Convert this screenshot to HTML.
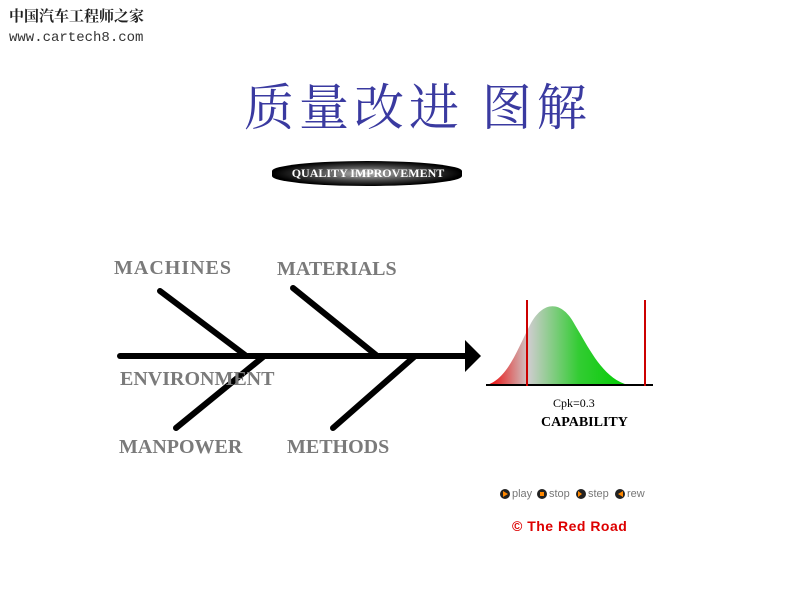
<!DOCTYPE html>
<html><head><meta charset="utf-8"><style>
body{margin:0;width:801px;height:600px;background:#fff;overflow:hidden;position:relative;font-family:"Liberation Serif",serif}
.a{position:absolute;white-space:nowrap}
.g{color:#7a7a7a;font-weight:bold;font-size:20px}
</style></head><body>
<div class="a" style="left:9px;top:5px;font:bold 15px 'Noto Serif CJK SC',serif;color:#222">中国汽车工程师之家</div>
<div class="a" style="left:9px;top:30px;font:14px 'Liberation Mono',monospace;color:#333">www.cartech8.com</div>
<div class="a" style="left:244px;top:68px;font:50px 'Noto Serif CJK SC',serif;color:#3a3aa0;letter-spacing:5px">质量改进 图解</div>
<div class="a" style="left:272px;top:161px;width:190px;height:25px;border-radius:50%/40%;background:radial-gradient(ellipse at 50% 50%,#bbb 0%,#555 35%,#000 70%)"></div>
<div class="a" style="left:274px;top:166px;width:188px;text-align:center;font:bold 12px 'Liberation Serif',serif;color:#fff">QUALITY IMPROVEMENT</div>
<svg class="a" style="left:0;top:0" width="801" height="600">
<defs><linearGradient id="bg" x1="487" x2="628" gradientUnits="userSpaceOnUse" y1="0" y2="0">
<stop offset="0" stop-color="#e00"/><stop offset="0.3" stop-color="#ccc"/><stop offset="0.65" stop-color="#3c3"/><stop offset="1" stop-color="#0c0"/></linearGradient></defs>
<g stroke="#000" stroke-width="6" stroke-linecap="round">
<line x1="120" y1="356" x2="466" y2="356"/>
<line x1="160" y1="291" x2="245" y2="355"/>
<line x1="293" y1="288" x2="376" y2="355"/>
<line x1="263" y1="357" x2="176" y2="428"/>
<line x1="414" y1="357" x2="333" y2="428"/>
</g>
<polygon points="465,340 481,356 465,372" fill="#000"/>
<path d="M487,385 C508,378 517,350 530,325 C543,300 562,300 575,325 C590,350 603,378 628,385 Z" fill="url(#bg)"/>
<line x1="486" y1="385" x2="653" y2="385" stroke="#000" stroke-width="2"/>
<line x1="527" y1="300" x2="527" y2="386" stroke="#c00" stroke-width="2"/>
<line x1="645" y1="300" x2="645" y2="386" stroke="#c00" stroke-width="2"/>
<g font-family="Liberation Sans,sans-serif" font-size="11" fill="#777">
<circle cx="505" cy="494" r="5" fill="#222"/><polygon points="503,491 508,494 503,497" fill="#f80"/><text x="512" y="497">play</text>
<circle cx="542" cy="494" r="5" fill="#222"/><rect x="540" y="492" width="4" height="4" fill="#f80"/><text x="549" y="497">stop</text>
<circle cx="581" cy="494" r="5" fill="#222"/><polygon points="578,491 582,494 578,497" fill="#f80"/><text x="588" y="497">step</text>
<circle cx="620" cy="494" r="5" fill="#222"/><polygon points="623,491 618,494 623,497" fill="#f80"/><text x="627" y="497">rew</text>
</g>
</svg>
<div class="a g" style="left:114px;top:257px;letter-spacing:1px">MACHINES</div>
<div class="a g" style="left:277px;top:258px">MATERIALS</div>
<div class="a g" style="left:120px;top:368px">ENVIRONMENT</div>
<div class="a g" style="left:119px;top:436px">MANPOWER</div>
<div class="a g" style="left:287px;top:436px">METHODS</div>
<div class="a" style="left:553px;top:396px;font-size:12px">Cpk=0.3</div>
<div class="a" style="left:541px;top:415px;font-size:14px;font-weight:bold">CAPABILITY</div>
<div class="a" style="left:512px;top:518px;font:bold 14px 'Liberation Sans',sans-serif;color:#d00;letter-spacing:0.5px">© The Red Road</div>
</body></html>
